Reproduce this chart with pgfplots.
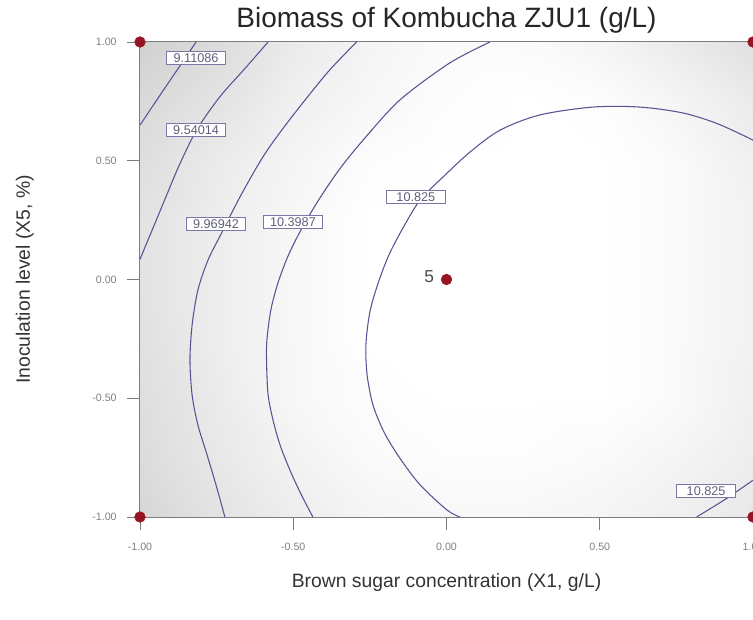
\documentclass[border=0pt]{standalone}
\usepackage{fontspec}
\setmainfont{Liberation Sans}
\usepackage{pgfplots}
\pgfplotsset{compat=1.18}
\usepackage{pgfplotstable}

\definecolor{cline}{RGB}{85,85,150}
\definecolor{cbox}{RGB}{120,120,165}
\definecolor{ctxt}{RGB}{95,95,125}
\definecolor{dotred}{RGB}{150,20,35}
\definecolor{axgray}{RGB}{125,125,125}

\pgfplotstableread{
x y c
-1 -1 0.84
-0.75 -1 0.89
-0.5 -1 0.93
-0.25 -1 0.96
0 -1 0.97
0.25 -1 0.97
0.5 -1 0.96
0.75 -1 0.94
1 -1 0.91
-1 -0.75 0.86
-0.75 -0.75 0.91
-0.5 -0.75 0.95
-0.25 -0.75 0.98
0 -0.75 0.99
0.25 -0.75 0.99
0.5 -0.75 0.98
0.75 -0.75 0.96
1 -0.75 0.93
-1 -0.5 0.87
-0.75 -0.5 0.92
-0.5 -0.5 0.97
-0.25 -0.5 0.99
0 -0.5 1
0.25 -0.5 1
0.5 -0.5 1
0.75 -0.5 0.98
1 -0.5 0.94
-1 -0.25 0.88
-0.75 -0.25 0.93
-0.5 -0.25 0.97
-0.25 -0.25 1
0 -0.25 1
0.25 -0.25 1
0.5 -0.25 1
0.75 -0.25 0.98
1 -0.25 0.95
-1 0 0.89
-0.75 0 0.93
-0.5 0 0.97
-0.25 0 1
0 0 1
0.25 0 1
0.5 0 1
0.75 0 0.98
1 0 0.95
-1 0.25 0.89
-0.75 0.25 0.93
-0.5 0.25 0.97
-0.25 0.25 1
0 0.25 1
0.25 0.25 1
0.5 0.25 1
0.75 0.25 0.98
1 0.25 0.95
-1 0.5 0.87
-0.75 0.5 0.92
-0.5 0.5 0.96
-0.25 0.5 0.99
0 0.5 1
0.25 0.5 1
0.5 0.5 1
0.75 0.5 0.98
1 0.5 0.94
-1 0.75 0.85
-0.75 0.75 0.89
-0.5 0.75 0.94
-0.25 0.75 0.97
0 0.75 0.99
0.25 0.75 1
0.5 0.75 0.99
0.75 0.75 0.96
1 0.75 0.92
-1 1 0.82
-0.75 1 0.86
-0.5 1 0.92
-0.25 1 0.96
0 1 0.98
0.25 1 0.98
0.5 1 0.96
0.75 1 0.92
1 1 0.88
}\shadetab

\begin{document}
\begin{tikzpicture}
\begin{axis}[
  scale only axis,
  width=459.75pt, height=356.25pt,
  xmin=-1, xmax=1, ymin=-1, ymax=1,
  clip=false,
  xtick={-1,-0.5,0,0.5,1},
  ytick={-1,-0.5,0,0.5,1},
  xtick pos=bottom, ytick pos=left,
  tick align=outside,
  major tick length=10pt,
  tick style={axgray, line width=0.6pt},
  axis line style={axgray, line width=0.9pt},
  /pgf/number format/assume math mode=true,
  /pgf/number format/.cd, fixed, fixed zerofill, precision=2, /pgfplots/.cd,
  ticklabel style={font=\fontsize{8}{9}\selectfont, text=black!50},
  yticklabel style={anchor=east, xshift=-4pt},
  xticklabel style={yshift=-6pt},
  colormap={bw}{gray(0cm)=(0); gray(1cm)=(1)},
  point meta min=0, point meta max=1,
  title={Biomass of Kombucha ZJU1 (g/L)},
  title style={at={(0.5,1.01263)}, anchor=base, font=\fontsize{21}{24}\selectfont, text=black!85},
  xlabel={Brown sugar concentration (X1, g/L)},
  ylabel={Inoculation level (X5, \%)},
  xlabel style={at={(0.5,-0.14947)}, anchor=base, font=\fontsize{14.5}{16}\selectfont, text=black!80},
  ylabel style={at={(-0.17945,0.5)}, anchor=base, font=\fontsize{14.5}{16}\selectfont, text=black!80},
]
\addplot[surf, shader=interp, mesh/cols=9, point meta=explicit] table[x=x, y=y, meta=c] {\shadetab};

% contour 9.11086
\addplot[cline, line width=0.8pt, smooth] coordinates {(-0.817,1) (-0.864,0.91) (-0.93,0.785) (-1,0.65)};
% contour 9.54014
\addplot[cline, line width=0.8pt, smooth] coordinates {(-0.582,1) (-0.66,0.885) (-0.739,0.77) (-0.815,0.63) (-0.873,0.478) (-0.924,0.321) (-1,0.085)};
% contour 9.96942
\addplot[cline, line width=0.8pt, smooth] coordinates {(-0.293,1) (-0.390,0.869) (-0.520,0.659) (-0.599,0.516) (-0.674,0.347) (-0.732,0.200) (-0.778,0.082) (-0.811,-0.044) (-0.830,-0.192) (-0.837,-0.339) (-0.830,-0.486) (-0.811,-0.613) (-0.781,-0.739) (-0.752,-0.865) (-0.723,-1)};
% contour 10.3987
\addplot[cline, line width=0.8pt, smooth] coordinates {(0.142,1) (0.011,0.912) (-0.152,0.756) (-0.272,0.587) (-0.351,0.461) (-0.419,0.331) (-0.475,0.208) (-0.517,0.099) (-0.550,-0.015) (-0.573,-0.128) (-0.586,-0.255) (-0.587,-0.352) (-0.582,-0.486) (-0.566,-0.592) (-0.543,-0.697) (-0.511,-0.802) (-0.475,-0.903) (-0.436,-1)};
% contour 10.825 (main)
\addplot[cline, line width=0.8pt, smooth] coordinates {(1,0.587) (0.886,0.655) (0.772,0.701) (0.631,0.726) (0.478,0.726) (0.305,0.693) (0.175,0.629) (0.077,0.537) (-0.011,0.432) (-0.086,0.335) (-0.142,0.217) (-0.188,0.103) (-0.223,-0.015) (-0.250,-0.137) (-0.263,-0.276) (-0.259,-0.402) (-0.240,-0.528) (-0.204,-0.642) (-0.155,-0.747) (-0.086,-0.865) (0.002,-0.971) (0.044,-1)};
% contour 10.825 (corner)
\addplot[cline, line width=0.8pt, smooth] coordinates {(0.816,-1) (0.91,-0.925) (1,-0.845)};

% design points
\addplot[only marks, mark=*, mark size=4pt, color=dotred] coordinates {(-1,-1) (-1,1) (1,1) (1,-1) (0,0)};

\tikzset{clab/.style={draw=cbox, fill=white, text=ctxt, line width=0.6pt, font=\fontsize{9.5}{10}\selectfont, inner xsep=3pt, inner ysep=1.5pt, minimum width=44pt}}
\node[clab] at (axis cs:-0.817,0.933) {9.11086};
\node[clab] at (axis cs:-0.817,0.629) {9.54014};
\node[clab] at (axis cs:-0.752,0.234) {9.96942};
\node[clab] at (axis cs:-0.501,0.242) {10.3987};
\node[clab] at (axis cs:-0.10,0.347) {10.825};
\node[clab] at (axis cs:0.847,-0.89) {10.825};
\node[anchor=east, font=\fontsize{13}{14}\selectfont, text=black!70] at (axis cs:-0.025,0.01) {5};
\end{axis}
\pgfresetboundingbox
\useasboundingbox (-105pt,-77.25pt) rectangle (459.75pt,387.75pt);
\end{tikzpicture}
\end{document}
